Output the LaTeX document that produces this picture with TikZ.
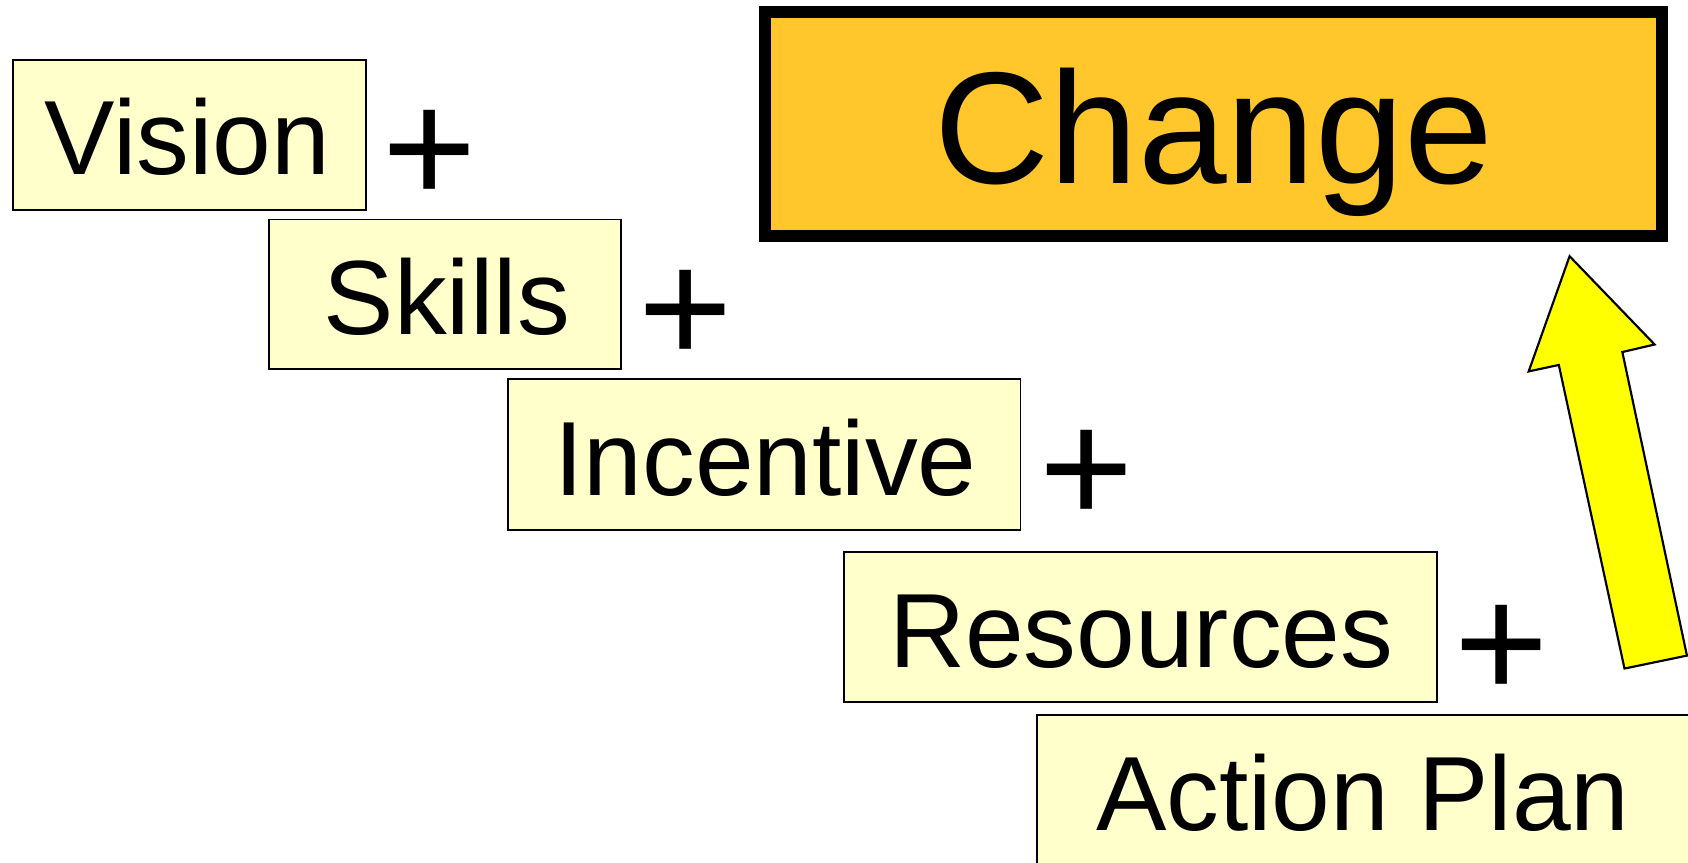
\documentclass[tikz,border=0pt]{standalone}
\usepackage{fontspec}
\setmainfont{Liberation Sans}
\definecolor{boxfill}{HTML}{FFFFCC}
\definecolor{changefill}{HTML}{FFC72C}
\definecolor{arrowfill}{HTML}{FFFF00}
\begin{document}
\begin{tikzpicture}[x=1pt,y=-1pt,
  factor/.style={draw=black, line width=1.6pt, fill=boxfill, inner sep=0pt},
  changebox/.style={draw=black, line width=11pt, fill=changefill, inner sep=0pt,
    minimum width=833pt, minimum height=208pt},
  word/.style={font=\fontsize{98}{98}\selectfont, anchor=base, inner sep=0pt},
  bigword/.style={font=\fontsize{148}{148}\selectfont, anchor=base, inner sep=0pt},
  plussign/.style={font=\fontsize{150}{150}\selectfont, inner sep=0pt},
  blockarrow/.style={draw=black, line width=2pt, fill=arrowfill, line join=miter}
 ]
\useasboundingbox (0,0) rectangle (1568,801);

% factor boxes
\node[factor, minimum width=328pt, minimum height=139pt] (vision) at (176,125.5) {};
\node[factor, minimum width=327pt, minimum height=139pt] (skills) at (413.5,273.5) {};
\node[factor, minimum width=476pt, minimum height=140pt] (incentive) at (710,422) {};
\node[factor, minimum width=551pt, minimum height=139pt] (resources) at (1059.5,582.5) {};
\node[factor, minimum width=606pt, minimum height=140pt] (action) at (1266,734) {};

% labels
\node[word] (visiontxt) at (174,162) {Vision};
\node[word] (skillstxt) at (415,310.5) {Skills};
\node[word] (incentivetxt) at (711,460) {Incentive};
\node[word] (resourcestxt) at (1060,620) {Resources};
\node[word] (actiontxt) at (1266,771) {Action Plan};

% plus signs
\node[plussign] (p1) at (399,146) {+};
\node[plussign] (p2) at (637,294) {+};
\node[plussign] (p3) at (1009,443) {+};
\node[plussign] (p4) at (1395,606) {+};

% change box
\node[changebox] (change) at (1127,115.5) {};
\node[bigword] (changetxt) at (1127.5,170) {Change};

% block arrow
\draw[blockarrow] (1458,238) -- (1537,320) -- (1507,327) -- (1567,609)
  -- (1509,621) -- (1448,339) -- (1420,345) -- cycle;
\end{tikzpicture}
\end{document}
